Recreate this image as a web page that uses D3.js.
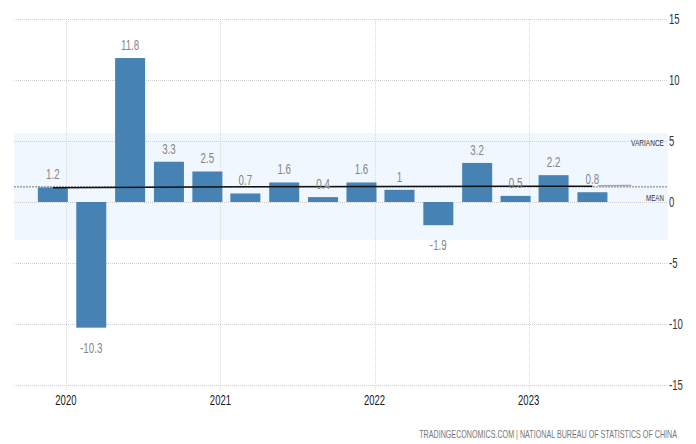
<!DOCTYPE html>
<html>
<head>
<meta charset="utf-8">
<script src="https://cdn.jsdelivr.net/npm/d3@7/dist/d3.min.js"></script>
<style>
  body { margin: 0; background: #fff; }
  svg text { font-family: "Liberation Sans", Arial, sans-serif; }
</style>
</head>
<body>
<svg id="chart" width="696" height="444"></svg>
<script>
// quarterly GDP growth, plotted at first day of the quarter's last month
let quarterDates = ["2019-12-01","2020-03-01","2020-06-01","2020-09-01","2020-12-01",
    "2021-03-01","2021-06-01","2021-09-01","2021-12-01",
    "2022-03-01","2022-06-01","2022-09-01","2022-12-01",
    "2023-03-01","2023-06-01"];
let gdpValues = [1.2, -10.3, 11.8, 3.3, 2.5, 0.7, 1.6, 0.4, 1.6, 1, -1.9, 3.2, 0.5, 2.2, 0.8];
let yTicks = [15, 10, 5, 0, -5, -10, -15];
let yearTicks = ["2020-01-01","2021-01-01","2022-01-01","2023-01-01"];

// trend line and its forecast tail
let trendDates = ["2019-12-01","2021-03-01","2023-06-01"];
let trendValues = [1.17, 1.25, 1.3];
let forecastDates = ["2023-06-15","2023-09-01"];
let forecastValues = [1.33, 1.35];

let meanValue = 1.24;
let varianceTop = 5.65;
let varianceBottom = -3.1;

const parse = d3.timeParse("%Y-%m-%d");
const svg = d3.select("#chart");

const x = d3.scaleTime()
    .domain([parse("2019-08-31"), parse("2023-11-27")])
    .range([14, 668]);
const y = d3.scaleLinear().domain([-15, 15]).range([385, 19]);

// squeeze text horizontally around its anchor, the source uses a condensed face
function narrow(sel, sx) {
    sel.each(function() {
        let t = d3.select(this);
        let ax = +t.attr("x"), ay = +t.attr("y");
        t.attr("transform", `translate(${ax},${ay}) scale(${sx},1) translate(${-ax},${-ay})`);
    });
}
// squeeze to a fixed width
function fitWidth(sel, w) {
    sel.call(narrow, w / sel.node().getComputedTextLength());
}

// variance band
svg.append("rect")
    .attr("x", x.range()[0]).attr("width", x.range()[1] - x.range()[0])
    .attr("y", y(varianceTop)).attr("height", y(varianceBottom) - y(varianceTop))
    .attr("fill", "#f0f7fe");

// grid
svg.append("g").selectAll("line").data(yTicks).join("line")
    .attr("x1", 14).attr("x2", 668)
    .attr("y1", d => y(d) + 0.5).attr("y2", d => y(d) + 0.5)
    .attr("stroke", "#cfcfcf").attr("stroke-dasharray", "1,1");
svg.append("g").selectAll("line").data(yearTicks).join("line")
    .attr("x1", d => Math.round(x(parse(d))) + 0.5).attr("x2", d => Math.round(x(parse(d))) + 0.5)
    .attr("y1", 19).attr("y2", 390)
    .attr("stroke", "#d8d8d8").attr("stroke-dasharray", "1,1");

// mean dashed line
svg.append("line")
    .attr("x1", 14).attr("x2", 668)
    .attr("y1", y(meanValue)).attr("y2", y(meanValue))
    .attr("stroke", "#555").attr("stroke-dasharray", "2,1").attr("stroke-width", 0.8);

// bars
const barW = 30;
svg.append("g").selectAll("rect").data(gdpValues).join("rect")
    .attr("x", (d, i) => x(parse(quarterDates[i])) - barW / 2)
    .attr("width", barW)
    .attr("y", d => y(Math.max(0, d)))
    .attr("height", d => Math.abs(y(d) - y(0)))
    .attr("fill", "#4682b4");

// trend line
const line = d3.line().x(d => x(d[0])).y(d => y(d[1]));
svg.append("path")
    .datum(trendDates.map((d, i) => [parse(d), trendValues[i]]))
    .attr("d", line).attr("fill", "none").attr("stroke", "#111").attr("stroke-width", 1.5);
svg.append("path")
    .datum(forecastDates.map((d, i) => [parse(d), forecastValues[i]]))
    .attr("d", line).attr("fill", "none").attr("stroke", "#aaa").attr("stroke-width", 1.5);

// value labels
svg.append("g").selectAll("text").data(gdpValues).join("text")
    .attr("x", (d, i) => x(parse(quarterDates[i])))
    .attr("y", d => d >= 0 ? y(d) - 8 : y(d) + 25)
    .attr("text-anchor", "middle")
    .attr("font-size", 14).attr("fill", "#858585")
    .text(d => d)
    .call(narrow, 0.7);

// y axis labels
svg.append("g").selectAll("text").data(yTicks).join("text")
    .attr("x", 669).attr("y", d => y(d) + 5)
    .attr("font-size", 14).attr("fill", "#333")
    .text(d => d)
    .call(narrow, 0.68);

// x axis labels
svg.append("g").selectAll("text").data(yearTicks).join("text")
    .attr("x", d => x(parse(d))).attr("y", 405)
    .attr("text-anchor", "middle")
    .attr("font-size", 14).attr("fill", "#1a1a1a")
    .text(d => d.slice(0, 4))
    .call(narrow, 0.68);

// band labels
svg.append("text").attr("x", 664).attr("y", y(varianceTop) + 13)
    .attr("text-anchor", "end").attr("font-size", 9).attr("fill", "#333")
    .text("VARIANCE").call(fitWidth, 33);
svg.append("text").attr("x", 664).attr("y", y(meanValue) + 14)
    .attr("text-anchor", "end").attr("font-size", 9).attr("fill", "#333")
    .text("MEAN").call(fitWidth, 18);

// source
svg.append("text").attr("x", 677).attr("y", 438)
    .attr("text-anchor", "end").attr("font-size", 10).attr("fill", "#777")
    .text("TRADINGECONOMICS.COM | NATIONAL BUREAU OF STATISTICS OF CHINA")
    .call(fitWidth, 258);
</script>
</body>
</html>
